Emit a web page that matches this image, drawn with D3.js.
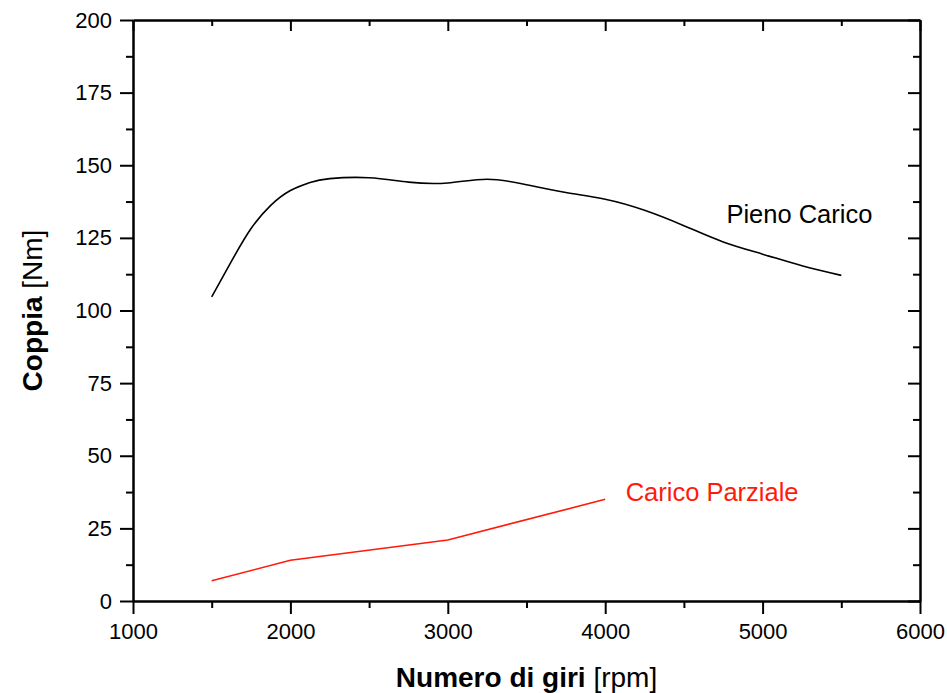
<!DOCTYPE html>
<html>
<head>
<meta charset="utf-8">
<script src="https://cdn.jsdelivr.net/npm/d3@7"></script>
<style>
  body { margin: 0; background: #fff; }
  svg { font-family: "Liberation Sans", Arial, sans-serif; }
  .axis path, .axis line { stroke: #000; stroke-width: 2px; }
  .axis text { font-size: 22px; fill: #000; }
</style>
</head>
<body>
<div id="chart"></div>
<script>
// torque curves

var rpmFull = [1500, 1625, 1750, 1875, 2000, 2125, 2250, 2500, 2750, 3000, 3250, 3500, 3750, 4000, 4250, 4500, 4750, 5000, 5250, 5500];
var torqueFull = [104.7, 116.9, 128.2, 136.2, 141.3, 144.1, 145.4, 145.7, 144.2, 143.9, 145.2, 143.3, 140.6, 138.3, 134.5, 129.2, 123.6, 119.4, 115.4, 112.1];

var rpmPartial = [1500, 2000, 3000, 4000];
var torquePartial = [7, 14, 21, 35];

var xTicks = [1000, 2000, 3000, 4000, 5000, 6000];
var xMinor = [1500, 2500, 3500, 4500, 5500];
var yTicks = [0, 25, 50, 75, 100, 125, 150, 175, 200];
var yMinor = [12.5, 37.5, 62.5, 87.5, 112.5, 137.5, 162.5, 187.5];

var seriesNames = ["Pieno Carico", "Carico Parziale"];

// size and margins

var margin = {top: 20, right: 27, bottom: 92, left: 133},
    width = 947 - margin.left - margin.right,
    height = 693 - margin.top - margin.bottom;

var xScale = d3.scaleLinear().domain([1000, 6000]).range([0, width]);
var yScale = d3.scaleLinear().domain([0, 200]).range([height, 0]);

var svg = d3.select("#chart").append("svg")
    .attr("width", width + margin.left + margin.right)
    .attr("height", height + margin.top + margin.bottom);

var g = svg.append("g")
    .attr("transform", "translate(" + margin.left + "," + margin.top + ")");

// minor ticks first, majors on top

g.append("g").attr("class", "axis")
    .attr("transform", "translate(0," + height + ")")
    .call(d3.axisBottom(xScale).tickValues(xMinor).tickSize(7).tickSizeOuter(0).tickFormat(""));
g.append("g").attr("class", "axis")
    .call(d3.axisTop(xScale).tickValues(xMinor).tickSize(-6).tickSizeOuter(0).tickFormat(""));
g.append("g").attr("class", "axis")
    .call(d3.axisLeft(yScale).tickValues(yMinor).tickSize(7).tickSizeOuter(0).tickFormat(""));
g.append("g").attr("class", "axis")
    .attr("transform", "translate(" + width + ",0)")
    .call(d3.axisRight(yScale).tickValues(yMinor).tickSize(-7).tickSizeOuter(0).tickFormat(""));

// major axes

g.append("g").attr("class", "axis")
    .attr("transform", "translate(0," + height + ")")
    .call(d3.axisBottom(xScale).tickValues(xTicks).tickSize(13).tickSizeOuter(0)
        .tickPadding(9).tickFormat(d3.format("d")));

g.append("g").attr("class", "axis")
    .call(d3.axisTop(xScale).tickValues(xTicks).tickSize(-11).tickSizeOuter(0).tickFormat(""));

g.append("g").attr("class", "axis")
    .call(d3.axisLeft(yScale).tickValues(yTicks).tickSize(13).tickSizeOuter(0)
        .tickPadding(8).tickFormat(d3.format("d")));

g.append("g").attr("class", "axis")
    .attr("transform", "translate(" + width + ",0)")
    .call(d3.axisRight(yScale).tickValues(yTicks).tickSize(-12).tickSizeOuter(0).tickFormat(""));

// lines

var fullData = rpmFull.map(function(r, i) { return {rpm: r, torque: torqueFull[i]}; });
var partialData = rpmPartial.map(function(r, i) { return {rpm: r, torque: torquePartial[i]}; });

var smoothLine = d3.line()
    .x(function(d) { return xScale(d.rpm); })
    .y(function(d) { return yScale(d.torque); })
    .curve(d3.curveNatural);

var straightLine = d3.line()
    .x(function(d) { return xScale(d.rpm); })
    .y(function(d) { return yScale(d.torque); });

g.append("path")
    .datum(fullData)
    .attr("d", smoothLine)
    .attr("fill", "none")
    .attr("stroke", "#000")
    .attr("stroke-width", 1.6);

g.append("path")
    .datum(partialData)
    .attr("d", straightLine)
    .attr("fill", "none")
    .attr("stroke", "#ff1a0a")
    .attr("stroke-width", 1.6);

// curve labels

g.append("text")
    .attr("x", xScale(4770))
    .attr("y", yScale(130))
    .style("font-size", "25.5px")
    .attr("fill", "#000")
    .text(seriesNames[0]);

g.append("text")
    .attr("x", xScale(4130))
    .attr("y", yScale(34.4))
    .style("font-size", "25.5px")
    .attr("fill", "#ff1a0a")
    .text(seriesNames[1]);

// axis titles

var xTitle = svg.append("text")
    .attr("x", margin.left + width / 2)
    .attr("y", 687)
    .attr("text-anchor", "middle")
    .style("font-size", "28px")
    .attr("fill", "#000");
xTitle.append("tspan").style("font-weight", "bold").text("Numero di giri");
xTitle.append("tspan").text(" [rpm]");

var yTitle = svg.append("text")
    .attr("transform", "translate(42," + (margin.top + height / 2) + ") rotate(-90)")
    .attr("text-anchor", "middle")
    .style("font-size", "28px")
    .attr("fill", "#000");
yTitle.append("tspan").style("font-weight", "bold").text("Coppia");
yTitle.append("tspan").text(" [Nm]");
</script>
</body>
</html>
